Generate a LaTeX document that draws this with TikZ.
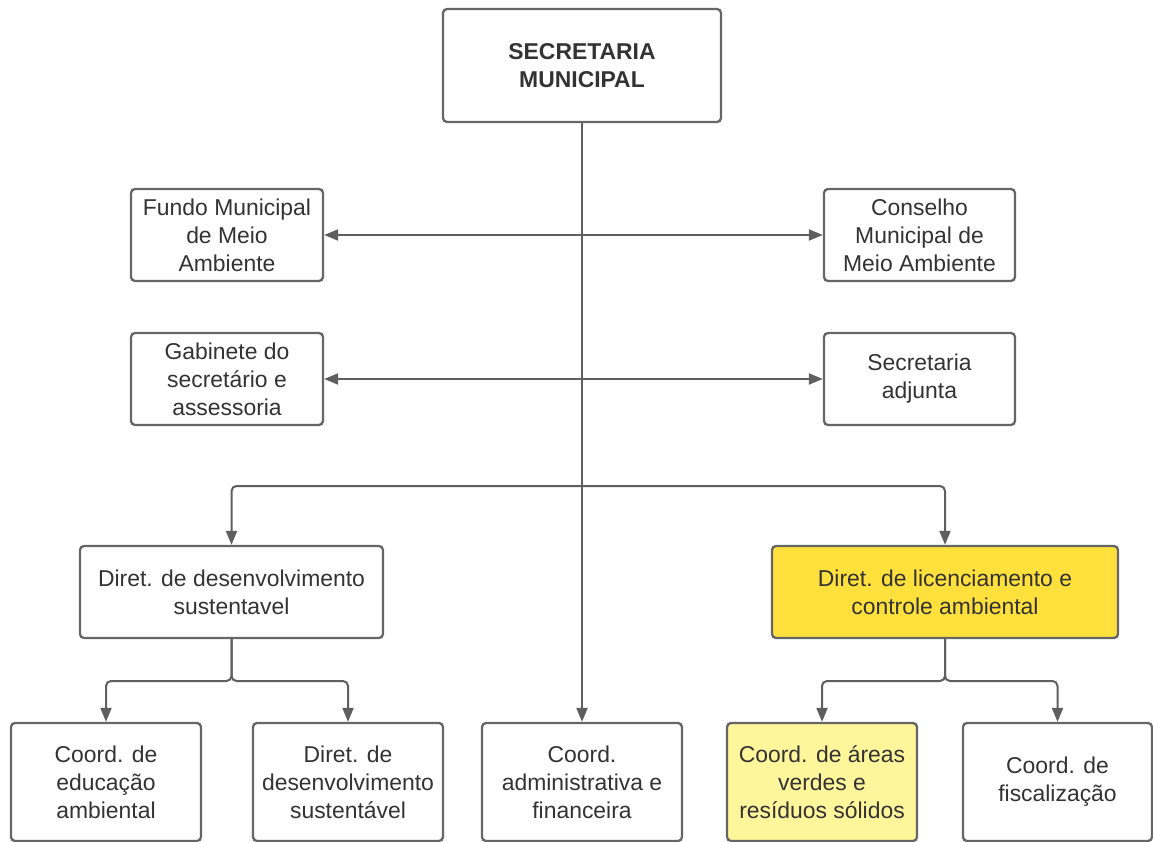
\documentclass[tikz,border=0pt]{standalone}
\usepackage{fontspec}
\setmainfont{Liberation Sans}
\usetikzlibrary{arrows.meta}
\definecolor{boxgray}{HTML}{666666}
\definecolor{linegray}{HTML}{5F5F5F}
\definecolor{textgray}{HTML}{333333}
\definecolor{yellowA}{HTML}{FFE03D}
\definecolor{yellowB}{HTML}{FFF59B}
\tikzset{
  box/.style={draw=boxgray, line width=2.3pt, rounded corners=4pt, fill=white,
    align=center, inner sep=0pt, text=textgray,
    font=\fontsize{22.9}{28}\selectfont},
  conn/.style={draw=linegray, line width=2pt, rounded corners=5pt,
    -{Triangle[length=14pt,width=11pt]}},
  biconn/.style={draw=linegray, line width=2pt,
    {Triangle[length=14pt,width=11pt]}-{Triangle[length=14pt,width=11pt]}},
}
\begin{document}
\begin{tikzpicture}[x=1pt,y=-1pt]
\useasboundingbox (0,0) rectangle (1153,842);
\begin{scope}
\clip (0,0) rectangle (1153,842);
% top
\node[box, minimum width=278pt, minimum height=113pt, font=\fontsize{22.9}{28}\selectfont\bfseries] (top) at (582,65.5) {SECRETARIA\\MUNICIPAL};
% side boxes
\node[box, minimum width=192pt, minimum height=92pt] (fundo) at (227,235) {Fundo Municipal\\de Meio\\Ambiente};
\node[box, minimum width=191pt, minimum height=92pt] (conselho) at (919.5,235) {Conselho\\Municipal de\\Meio Ambiente};
\node[box, minimum width=192pt, minimum height=92pt] (gab) at (227,379) {Gabinete do\\secretário e\\assessoria};
\node[box, minimum width=191pt, minimum height=92pt] (adj) at (919.5,379) {Secretaria\\adjunta};
% directorates
\node[box, minimum width=303pt, minimum height=92pt] (dds) at (231.5,592) {Diret. de desenvolvimento\\sustentavel};
\node[box, minimum width=346pt, minimum height=92pt, fill=yellowA] (dlc) at (945,592) {Diret. de licenciamento e\\controle ambiental};
% bottom row
\node[box, minimum width=190pt, minimum height=118pt] (ced) at (106,782) {Coord. de\\educação\\ambiental};
\node[box, minimum width=190pt, minimum height=118pt] (dds2) at (348,782) {Diret. de\\desenvolvimento\\sustentável};
\node[box, minimum width=200pt, minimum height=118pt] (cad) at (582,782) {Coord.\\administrativa e\\financeira};
\node[box, minimum width=190pt, minimum height=118pt, fill=yellowB] (cav) at (822,782) {Coord. de áreas\\verdes e\\resíduos sólidos};
\node[box, minimum width=189pt, minimum height=118pt] (cfi) at (1057.5,782) {Coord. de\\fiscalização};
\end{scope}
% junction coordinates
\coordinate (br) at (582,486);
\coordinate (j1) at (231.5,681);
\coordinate (j2) at (945,681);
% connectors
\draw[conn] (top.south) -- (cad.north);
\draw[biconn] (fundo.east) -- (conselho.west);
\draw[biconn] (gab.east) -- (adj.west);
\draw[conn] (br) -| (dds.north);
\draw[conn] (br) -| (dlc.north);
\draw[conn] (dds.south) -- (j1) -| (ced.north);
\draw[conn] (dds.south) -- (j1) -| (dds2.north);
\draw[conn] (dlc.south) -- (j2) -| (cav.north);
\draw[conn] (dlc.south) -- (j2) -| (cfi.north);
\end{tikzpicture}
\end{document}
